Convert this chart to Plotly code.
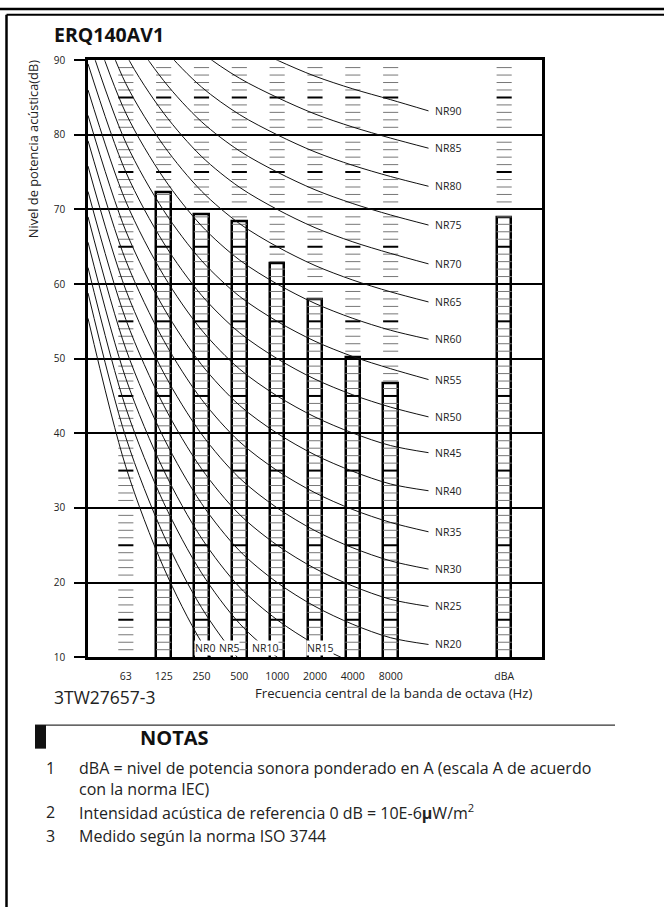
import plotly.graph_objects as go

W, H = 664, 914

# ---------------- data ----------------
bands = ["63", "125", "250", "500", "1000", "2000", "4000", "8000"]
dba_label = "dBA"
bar_categories = ["125", "250", "500", "1000", "2000", "4000", "8000", "dBA"]
bar_values = [72.3, 69.4, 68.4, 62.8, 58.0, 50.2, 46.7, 69.0]

nr_levels = [0, 5, 10, 15, 20, 25, 30, 35, 40, 45, 50, 55, 60, 65, 70, 75, 80, 85, 90]
# NR curve levels (dB) per octave band, one value per NR curve
nr_31_5 = [55.4, 58.8, 62.2, 65.6, 69.0, 72.4, 75.8, 79.2, 82.6, 86.0, 89.5, 92.9, 96.3, 99.7, 103.1, 106.5, 109.9, 113.3, 116.7]
nr_63 = [35.5, 39.45, 43.4, 47.35, 51.3, 55.25, 59.2, 63.15, 67.1, 71.05, 75.0, 78.95, 82.9, 86.85, 90.8, 94.75, 98.7, 102.65, 106.6]
nr_125 = [22.0, 26.35, 30.7, 35.05, 39.4, 43.75, 48.1, 52.45, 56.8, 61.15, 65.5, 69.85, 74.2, 78.55, 82.9, 87.25, 91.6, 95.95, 100.3]
nr_250 = [12.0, 16.65, 21.3, 25.95, 30.6, 35.25, 39.9, 44.55, 49.2, 53.85, 58.5, 63.15, 67.8, 72.45, 77.1, 81.75, 86.4, 91.05, 95.7]
nr_500 = [4.8, 9.67, 14.54, 19.41, 24.28, 29.15, 34.02, 38.89, 43.76, 48.63, 53.5, 58.37, 63.24, 68.11, 72.98, 77.85, 82.72, 87.59, 92.46]
nr_1000 = [0, 5, 10, 15, 20, 25, 30, 35, 40, 45, 50, 55, 60, 65, 70, 75, 80, 85, 90]
nr_2000 = [-3.5, 1.58, 6.65, 11.73, 16.8, 21.88, 26.95, 32.03, 37.1, 42.18, 47.25, 52.33, 57.4, 62.48, 67.55, 72.63, 77.7, 82.78, 87.85]
nr_4000 = [-6.1, -0.98, 4.15, 9.28, 14.4, 19.53, 24.65, 29.78, 34.9, 40.03, 45.15, 50.28, 55.4, 60.53, 65.65, 70.78, 75.9, 81.03, 86.15]
nr_8000 = [-8.0, -2.85, 2.3, 7.45, 12.6, 17.75, 22.9, 28.05, 33.2, 38.35, 43.5, 48.65, 53.8, 58.95, 64.1, 69.25, 74.4, 79.55, 84.7]
# level where each curve meets its label on the right (None = label at the bottom)
nr_label_end = [None, None, None, None, 11.7, 16.8, 21.8, 26.8, 32.3, 37.4, 42.2, 47.2, 52.6, 57.6, 62.7, 67.9, 73.1, 78.2, 83.2]
# bottom labels: NR value -> position along the band axis (in band steps)
bottom_label_nr = [0, 5, 10, 15]
bottom_label_pos = [2.09, 2.72, 3.68, 5.14]

y_ticks = [10, 20, 30, 40, 50, 60, 70, 80, 90]

title_text = "ERQ140AV1"
y_title = "Nivel de potencia acústica(dB)"
x_title = "Frecuencia central de la banda de octava (Hz)"
code_text = "3TW27657-3"
notes_title = "NOTAS"
note_nums = ["1", "2", "3"]
note_texts = [
    "dBA = nivel de potencia sonora ponderado en A (escala A de acuerdo<br>con la norma IEC)",
    "Intensidad acústica de referencia 0 dB = 10E-6<b>μ</b>W/m<sup>2</sup>",
    "Medido según la norma ISO 3744",
]

# ---------------- positions ----------------
pos = {b: i for i, b in enumerate(bands)}
pos[dba_label] = len(bands) + 2
pos_31_5 = -1
pos_end = len(bands)
x_range = [-1, len(bands) + 3]

FONT = "Open Sans"
TXT = "#222"
NOTE_SIZE = 16


def px(x):
    return x / W


def py(y):
    return 1 - y / H


fig = go.Figure()

# column hatch dashes (every dB, heavier every 5 dB)
col_pos = [pos[b] for b in bands] + [pos[dba_label]]
hw = 0.2
thin_x, thin_y, thick_x, thick_y = [], [], [], []
for c in col_pos:
    for lv in range(y_ticks[0] + 1, y_ticks[-1]):
        if lv % 10 == 0:
            continue
        if lv % 5 == 0:
            thick_x += [c - hw, c + hw, None]
            thick_y += [lv, lv, None]
        else:
            thin_x += [c - hw, c + hw, None]
            thin_y += [lv, lv, None]

fig.add_trace(go.Scatter(x=thin_x, y=thin_y, mode="lines",
                         line=dict(color="#777", width=1), hoverinfo="skip", showlegend=False))
fig.add_trace(go.Scatter(x=thick_x, y=thick_y, mode="lines",
                         line=dict(color="#000", width=2), hoverinfo="skip", showlegend=False))

# bars (outline only)
fig.add_trace(go.Bar(x=[pos[c] for c in bar_categories], y=bar_values, width=0.38,
                     marker=dict(color="rgba(0,0,0,0)", line=dict(color="#000", width=2.5)),
                     hoverinfo="skip", showlegend=False))

# NR curves
band_cols = [nr_63, nr_125, nr_250, nr_500, nr_1000, nr_2000, nr_4000, nr_8000]
for k, nr in enumerate(nr_levels):
    xs = [pos_31_5] + [pos[b] for b in bands]
    ys = [nr_31_5[k]] + [col[k] for col in band_cols]
    if nr_label_end[k] is not None:
        xs.append(pos_end)
        ys.append(nr_label_end[k])
    fig.add_trace(go.Scatter(x=xs, y=ys, mode="lines",
                             line=dict(color="#111", width=1, shape="spline", smoothing=0.9),
                             hoverinfo="skip", showlegend=False))

annotations = []
for k, nr in enumerate(nr_levels):
    if nr_label_end[k] is not None:
        annotations.append(dict(x=pos_end + 0.12, y=nr_label_end[k], xref="x", yref="y",
                                text=f"NR{nr}", showarrow=False, xanchor="left", yanchor="middle",
                                font=dict(size=10.5, color=TXT, family=FONT)))
for nr, p in zip(bottom_label_nr, bottom_label_pos):
    annotations.append(dict(x=p, y=11.25, xref="x", yref="y", text=f"NR{nr}", showarrow=False,
                            xanchor="center", yanchor="middle", bgcolor="white", borderpad=0,
                            font=dict(size=10.5, color=TXT, family=FONT)))

# text blocks
annotations += [
    dict(x=px(52), y=py(27), xref="paper", yref="paper", text=f"<b>{title_text}</b>", showarrow=False,
         xanchor="left", yanchor="middle", font=dict(size=19.5, color="#111", family=FONT)),
    dict(x=px(33), y=py(51), xref="paper", yref="paper", text=y_title, showarrow=False, textangle=-90,
         xanchor="center", yanchor="top", font=dict(size=12.8, color=TXT, family=FONT)),
    dict(x=px(52), y=py(701), xref="paper", yref="paper", text=code_text, showarrow=False,
         xanchor="left", yanchor="middle", font=dict(size=17.5, color=TXT, family=FONT)),
    dict(x=px(253), y=py(696), xref="paper", yref="paper", text=x_title, showarrow=False,
         xanchor="left", yanchor="middle", font=dict(size=13.2, color=TXT, family=FONT)),
    dict(x=px(138), y=py(742), xref="paper", yref="paper", text=f"<b>{notes_title}</b>", showarrow=False,
         xanchor="left", yanchor="middle", font=dict(size=20, color="#111", family=FONT)),
]
note_y = [773, 817, 842]
line_gap = 1.3 * NOTE_SIZE
for num, txt, yy in zip(note_nums, note_texts, note_y):
    n_lines = txt.count("<br>") + 1
    center = yy + (n_lines - 1) * line_gap / 2
    annotations.append(dict(x=px(50), y=py(yy), xref="paper", yref="paper", text=num, showarrow=False,
                            xanchor="center", yanchor="middle", font=dict(size=NOTE_SIZE, color=TXT, family=FONT)))
    annotations.append(dict(x=px(77), y=py(center), xref="paper", yref="paper", text=txt, showarrow=False,
                            xanchor="left", yanchor="middle", align="left",
                            font=dict(size=NOTE_SIZE, color=TXT, family=FONT)))

shapes = [
    dict(type="line", xref="paper", yref="paper", x0=0, x1=1, y0=py(1), y1=py(1),
         line=dict(color="#000", width=2.5)),
    dict(type="line", xref="paper", yref="paper", x0=px(6.5), x1=1, y0=py(6.8), y1=py(6.8),
         line=dict(color="#000", width=2)),
    dict(type="line", xref="paper", yref="paper", x0=px(6.5), x1=px(6.5), y0=py(6.8), y1=0,
         line=dict(color="#000", width=2.5)),
    dict(type="line", xref="paper", yref="paper", x0=px(35), x1=px(615), y0=py(729), y1=py(729),
         line=dict(color="#333", width=1.2)),
    dict(type="rect", xref="paper", yref="paper", x0=px(35), x1=px(46), y0=py(753), y1=py(729),
         line=dict(width=0), fillcolor="#111"),
]

fig.update_layout(
    width=W, height=H, margin=dict(l=0, r=0, t=0, b=0),
    paper_bgcolor="white", plot_bgcolor="white",
    font=dict(family=FONT, color=TXT),
    annotations=annotations, shapes=shapes, bargap=0,
    xaxis=dict(domain=[px(88), px(542)], range=x_range, showgrid=False, zeroline=False,
               tickvals=[pos[b] for b in bands] + [pos[dba_label]], ticktext=bands + [dba_label],
               ticks="", ticklabelstandoff=7, tickfont=dict(size=10.5, color=TXT),
               showline=True, linecolor="#000", linewidth=2.5, mirror=True, fixedrange=True),
    yaxis=dict(domain=[py(660), py(53)], range=[y_ticks[0], y_ticks[-1]], tickvals=y_ticks,
               showgrid=True, gridcolor="#000", gridwidth=2, zeroline=False,
               ticks="outside", ticklen=11, tickwidth=2, tickcolor="#000", ticklabelstandoff=7,
               tickfont=dict(size=10, color=TXT),
               showline=True, linecolor="#000", linewidth=2.5, mirror=True, fixedrange=True),
)

fig.write_html("out.html", config={"displayModeBar": False},
               post_script="document.body.style.margin='0';document.body.style.padding='0';"
                           "document.body.style.overflow='hidden';")
